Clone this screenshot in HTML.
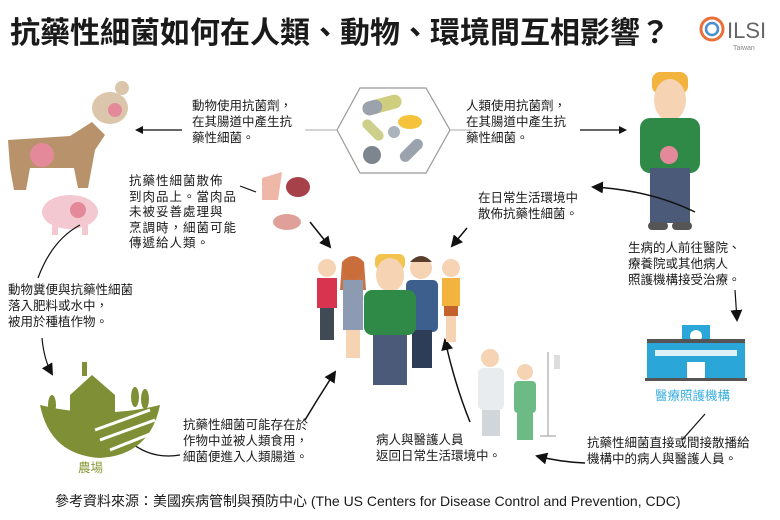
<!DOCTYPE html>
<html><head><meta charset="utf-8"><style>
body{margin:0;background:#fff}
#c{position:relative;width:780px;height:520px;overflow:hidden;font-family:"Liberation Sans","Noto Sans CJK TC",sans-serif;color:#1a1a1a}
.t{position:absolute;font-size:12.5px;line-height:16px;white-space:nowrap}
svg{position:absolute;left:0;top:0}
</style></head><body><div id="c">
<svg width="780" height="520" viewBox="0 0 780 520">
<defs><marker id="a" markerWidth="8" markerHeight="8" refX="6" refY="4" orient="auto" markerUnits="userSpaceOnUse"><path d="M0,0L8,4L0,8z" fill="#111"/></marker>
<marker id="b" markerWidth="12" markerHeight="12" refX="10" refY="6" orient="auto" markerUnits="userSpaceOnUse"><path d="M0,0L12,6L0,12z" fill="#111"/></marker></defs>
<circle cx="712" cy="29" r="11" fill="none" stroke="#e8703a" stroke-width="3"/>
<circle cx="712" cy="29" r="6" fill="none" stroke="#4a8fd0" stroke-width="2.5"/>
<text x="727" y="38" font-size="22" fill="#666" font-family="Liberation Sans">ILSI</text>
<text x="733" y="50" font-size="7" fill="#888">Taiwan</text>
<polygon points="360,88 426,88 450,130 426,173 360,173 337,130" fill="#fff" stroke="#999" stroke-width="1.2"/>
<line x1="305" y1="130" x2="337" y2="130" stroke="#aaa"/><line x1="450" y1="130" x2="472" y2="130" stroke="#aaa"/>
<rect x="362" y="98" width="40" height="14" rx="7" fill="#cfcd7e" transform="rotate(-15 382 105)"/>
<rect x="362" y="98" width="20" height="14" rx="7" fill="#9aa3ad" transform="rotate(-15 382 105)"/>
<ellipse cx="410" cy="122" rx="12" ry="7" fill="#f5c33b"/>
<rect x="360" y="125" width="26" height="10" rx="5" fill="#cdd08a" transform="rotate(45 373 130)"/>
<circle cx="394" cy="132" r="6" fill="#aab2bb"/>
<circle cx="372" cy="155" r="9" fill="#7d868f"/>
<rect x="397" y="145" width="28" height="11" rx="5.5" fill="#9aa3ad" transform="rotate(-45 411 150)"/>
<line x1="182" y1="130" x2="137" y2="130" stroke="#333" stroke-width="1.5" marker-end="url(#a)"/>
<line x1="580" y1="130" x2="625" y2="130" stroke="#333" stroke-width="1.5" marker-end="url(#a)"/>
<ellipse cx="110" cy="108" rx="18" ry="16" fill="#dcc6ab"/><circle cx="122" cy="88" r="7" fill="#dcc6ab"/>
<circle cx="115" cy="110" r="7" fill="#e4899a"/>
<path d="M8,140 L70,136 L92,122 L105,135 L95,150 L88,188 L78,188 L74,168 L30,168 L26,190 L14,190 L10,168z" fill="#b8926a"/>
<circle cx="42" cy="155" r="12" fill="#e4899a"/>
<ellipse cx="70" cy="212" rx="28" ry="17" fill="#f4c8d0"/><rect x="52" y="222" width="6" height="13" fill="#f4c8d0"/><rect x="82" y="222" width="6" height="13" fill="#f4c8d0"/>
<circle cx="78" cy="210" r="8" fill="#e4899a"/>
<path d="M262,178 L282,172 L278,200 L262,200z" fill="#efb7a8"/>
<ellipse cx="298" cy="187" rx="12" ry="10" fill="#a6414a"/>
<ellipse cx="287" cy="222" rx="14" ry="8" fill="#e0a09a"/>
<line x1="240" y1="186" x2="256" y2="192" stroke="#111" stroke-width="1.2"/>
<line x1="310" y1="222" x2="330" y2="247" stroke="#111" stroke-width="1.5" marker-end="url(#b)"/>
<rect x="652" y="72" width="36" height="22" rx="8" fill="#f3b33f"/>
<ellipse cx="670" cy="100" rx="16" ry="21" fill="#f6d3b3"/>
<rect x="640" y="118" width="60" height="55" rx="10" fill="#2f8a48"/>
<rect x="650" y="168" width="40" height="55" fill="#4b5a78"/>
<rect x="648" y="222" width="20" height="8" rx="4" fill="#555"/><rect x="672" y="222" width="20" height="8" rx="4" fill="#555"/>
<circle cx="669" cy="155" r="9" fill="#e4899a"/>
<path d="M695,212 Q650,190 593,187" fill="none" stroke="#111" stroke-width="1.5" marker-end="url(#b)"/>
<line x1="467" y1="228" x2="452" y2="246" stroke="#111" stroke-width="1.5" marker-end="url(#b)"/>
<path d="M80,225 Q52,240 38,278" fill="none" stroke="#111" stroke-width="1.2"/>
<path d="M42,338 Q44,360 52,374" fill="none" stroke="#111" stroke-width="1.2" marker-end="url(#b)"/>
<line x1="735" y1="290" x2="737" y2="320" stroke="#111" stroke-width="1.2" marker-end="url(#b)"/>
<line x1="705" y1="414" x2="682" y2="440" stroke="#111" stroke-width="1.2"/>
<path d="M585,463 Q560,462 537,456" fill="none" stroke="#111" stroke-width="1.5" marker-end="url(#b)"/>
<path d="M470,422 Q455,385 445,340" fill="none" stroke="#111" stroke-width="1.5" marker-end="url(#b)"/>
<path d="M305,420 Q320,395 335,372" fill="none" stroke="#111" stroke-width="1.5" marker-end="url(#b)"/>
<path d="M128,440 Q150,460 180,455" fill="none" stroke="#111" stroke-width="1.2"/>
<g>
<circle cx="327" cy="268" r="9" fill="#f6d3b3"/><rect x="317" y="278" width="20" height="30" fill="#d9344f"/><rect x="320" y="308" width="14" height="32" fill="#3f4a55"/>
<circle cx="451" cy="268" r="9" fill="#f6d3b3"/><rect x="442" y="278" width="18" height="28" fill="#f3b33f"/><rect x="444" y="306" width="14" height="10" fill="#c4622d"/><rect x="446" y="316" width="10" height="26" fill="#f6d3b3"/>
<circle cx="353" cy="268" r="11" fill="#f6d3b3"/><path d="M342,262 Q353,250 364,262 L366,290 L340,290z" fill="#c4622d" opacity=".9"/><rect x="343" y="280" width="20" height="50" fill="#8c9bb2"/><rect x="346" y="330" width="14" height="28" fill="#f6d3b3"/>
<circle cx="421" cy="268" r="11" fill="#f6d3b3"/><path d="M410,262 Q421,250 432,262z" fill="#5a3d2b"/><rect x="406" y="280" width="32" height="52" rx="5" fill="#3c5f8d"/><rect x="412" y="330" width="20" height="38" fill="#2e3d57"/>
<rect x="375" y="254" width="30" height="16" rx="6" fill="#f3c24f"/><ellipse cx="390" cy="275" rx="14" ry="17" fill="#f6d3b3"/>
<rect x="364" y="290" width="52" height="45" rx="8" fill="#2f8a48"/><rect x="373" y="335" width="34" height="50" fill="#4b5a78"/>
</g>
<circle cx="490" cy="358" r="9" fill="#f6d3b3"/><rect x="478" y="368" width="26" height="42" rx="5" fill="#e8ecef"/><rect x="482" y="410" width="18" height="26" fill="#d0d6da"/>
<circle cx="525" cy="372" r="8" fill="#f6d3b3"/><rect x="514" y="381" width="22" height="32" rx="4" fill="#6cbb85"/><rect x="517" y="413" width="16" height="27" fill="#6cbb85"/>
<line x1="548" y1="352" x2="548" y2="436" stroke="#999"/><line x1="540" y1="436" x2="556" y2="436" stroke="#999"/><rect x="554" y="355" width="6" height="14" fill="#ddd"/>
<rect x="682" y="325" width="28" height="20" fill="#2aa6d8"/><circle cx="696" cy="336" r="6" fill="#fff"/>
<rect x="647" y="343" width="98" height="35" fill="#2aa6d8"/><rect x="647" y="339" width="98" height="4" fill="#555"/>
<rect x="655" y="350" width="82" height="6" fill="#fff" opacity=".85"/><rect x="687" y="362" width="18" height="16" fill="#fff"/>
<rect x="645" y="378" width="102" height="3" fill="#555"/>
<path d="M40,405 Q50,455 100,458 Q150,455 160,405 Q100,420 40,405z" fill="#7f8f35"/>
<path d="M70,395 L92,375 L115,395 L115,418 L70,418z" fill="#7f8f35"/>
<rect x="82" y="362" width="5" height="14" fill="#7f8f35"/>
<ellipse cx="52" cy="405" rx="4" ry="10" fill="#7f8f35"/><ellipse cx="135" cy="397" rx="4" ry="10" fill="#7f8f35"/><ellipse cx="145" cy="399" rx="4" ry="10" fill="#7f8f35"/>
<path d="M95,430 L150,410 M100,440 L155,420 M110,450 L155,432" stroke="#fff" stroke-width="3"/>
</svg>
<div style="position:absolute;left:10px;top:15px;font-size:30px;font-weight:bold;line-height:38px;white-space:nowrap">抗藥性細菌如何在人類、動物、環境間互相影響？</div>
<div class="t" style="left:192px;top:98px">動物使用抗菌劑，<br>在其腸道中產生抗<br>藥性細菌。</div>
<div class="t" style="left:466px;top:98px">人類使用抗菌劑，<br>在其腸道中產生抗<br>藥性細菌。</div>
<div class="t" style="left:129px;top:174px;line-height:15.5px;letter-spacing:1px">抗藥性細菌散佈<br>到肉品上。當肉品<br>未被妥善處理與<br>烹調時，細菌可能<br>傳遞給人類。</div>
<div class="t" style="left:478px;top:190px">在日常生活環境中<br>散佈抗藥性細菌。</div>
<div class="t" style="left:628px;top:240px">生病的人前往醫院、<br>療養院或其他病人<br>照護機構接受治療。</div>
<div class="t" style="left:8px;top:282px">動物糞便與抗藥性細菌<br>落入肥料或水中，<br>被用於種植作物。</div>
<div class="t" style="left:655px;top:388px;color:#3aaee0">醫療照護機構</div>
<div class="t" style="left:183px;top:417px">抗藥性細菌可能存在於<br>作物中並被人類食用，<br>細菌便進入人類腸道。</div>
<div class="t" style="left:376px;top:432px">病人與醫護人員<br>返回日常生活環境中。</div>
<div class="t" style="left:587px;top:435px">抗藥性細菌直接或間接散播給<br>機構中的病人與醫護人員。</div>
<div class="t" style="left:78px;top:460px;color:#8a9a3a">農場</div>
<div class="t" style="left:55px;top:493px;font-size:14px">參考資料來源：美國疾病管制與預防中心 (The US Centers for Disease Control and Prevention, CDC)</div>
</div></body></html>
